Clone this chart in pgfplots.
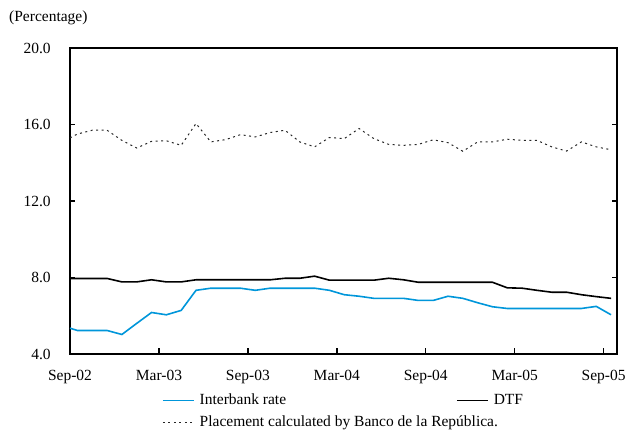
\documentclass[border=0pt]{standalone}
\usepackage{fontspec}
\setmainfont{Liberation Serif}
\usepackage{pgfplots}
\pgfplotsset{compat=1.18}
\definecolor{ibblue}{RGB}{0,150,218}
\begin{document}
\fontsize{15.5}{18}\selectfont
\begin{tikzpicture}
\useasboundingbox (0,0) rectangle (627pt,431pt);
\node[anchor=west, inner sep=0pt] at (9pt,413pt) {(Percentage)};
\begin{axis}[
  at={(70pt,77pt)}, anchor=south west,
  width=547pt, height=306pt, scale only axis,
  xmin=0, xmax=36.9, ymin=4, ymax=20,
  axis line style={line width=1.6pt, black},
  xtick={0,6,...,36},
  xticklabels={Sep-02,Mar-03,Sep-03,Mar-04,Sep-04,Mar-05,Sep-05},
  ytick={4,8,...,20},
  xtick pos=bottom, ytick pos=both,
  tick align=inside,
  major tick length=5.5pt,
  tick style={line width=1.4pt, black},
  /pgf/number format/assume math mode=true,
  yticklabel style={/pgf/number format/fixed, /pgf/number format/fixed zerofill, /pgf/number format/precision=1, xshift=-14pt},
  xticklabel style={yshift=-11pt},
  legend columns=2,
  legend style={draw=none, fill=none, at={(0.168,-0.124)}, anchor=north west, inner sep=0pt,
    /tikz/every even column/.append style={column sep=168pt},
    row sep=5pt},
  legend cell align=left,
  legend image code/.code={\draw[#1] (0pt,0pt) -- (31pt,0pt);},
  /tikz/every odd column/.append style={column sep=3pt},
]
\addplot[ibblue, line width=1.6pt] coordinates {
(0,5.35) (0.5,5.23) (1.5,5.23) (2.5,5.23) (3.5,5.02) (4.5,5.6) (5.5,6.17) (6.5,6.05) (7.5,6.28) (8.5,7.33) (9.5,7.44) (10.5,7.44) (11.5,7.44) (12.5,7.33) (13.5,7.44) (14.5,7.44) (15.5,7.44) (16.5,7.44) (17.5,7.33) (18.5,7.10) (19.5,7.02) (20.5,6.91) (21.5,6.91) (22.5,6.91) (23.5,6.80) (24.5,6.80) (25.5,7.02) (26.5,6.91) (27.5,6.68) (28.5,6.47) (29.5,6.38) (30.5,6.38) (31.5,6.38) (32.5,6.38) (33.5,6.38) (34.5,6.38) (35.5,6.49) (36.5,6.05)
};
\addlegendentry{Interbank rate}
\addplot[black, line width=1.6pt] coordinates {
(0,7.95) (0.5,7.95) (1.5,7.95) (2.5,7.95) (3.5,7.77) (4.5,7.77) (5.5,7.88) (6.5,7.77) (7.5,7.77) (8.5,7.88) (9.5,7.88) (10.5,7.88) (11.5,7.88) (12.5,7.88) (13.5,7.88) (14.5,7.96) (15.5,7.96) (16.5,8.07) (17.5,7.86) (18.5,7.86) (19.5,7.86) (20.5,7.86) (21.5,7.96) (22.5,7.88) (23.5,7.75) (24.5,7.75) (25.5,7.75) (26.5,7.75) (27.5,7.75) (28.5,7.75) (29.5,7.46) (30.5,7.44) (31.5,7.33) (32.5,7.23) (33.5,7.23) (34.5,7.10) (35.5,7.00) (36.5,6.91)
};
\addlegendentry{DTF}
\addplot[black!85, line width=1pt, dash pattern=on 2pt off 3.5pt] coordinates {
(0,15.3) (0.5,15.5) (1.5,15.7) (2.5,15.7) (3.5,15.17) (4.5,14.77) (5.5,15.12) (6.5,15.15) (7.5,14.91) (8.5,16.05) (9.5,15.09) (10.5,15.21) (11.5,15.47) (12.5,15.35) (13.5,15.58) (14.5,15.7) (15.5,15.09) (16.5,14.83) (17.5,15.32) (18.5,15.26) (19.5,15.79) (20.5,15.26) (21.5,14.96) (22.5,14.91) (23.5,14.96) (24.5,15.2) (25.5,15.05) (26.5,14.6) (27.5,15.09) (28.5,15.09) (29.5,15.23) (30.5,15.17) (31.5,15.17) (32.5,14.83) (33.5,14.61) (34.5,15.09) (35.5,14.83) (36.5,14.68)
};
\addlegendentry{\rlap{Placement calculated by Banco de la República.}}
\end{axis}
\end{tikzpicture}
\end{document}
